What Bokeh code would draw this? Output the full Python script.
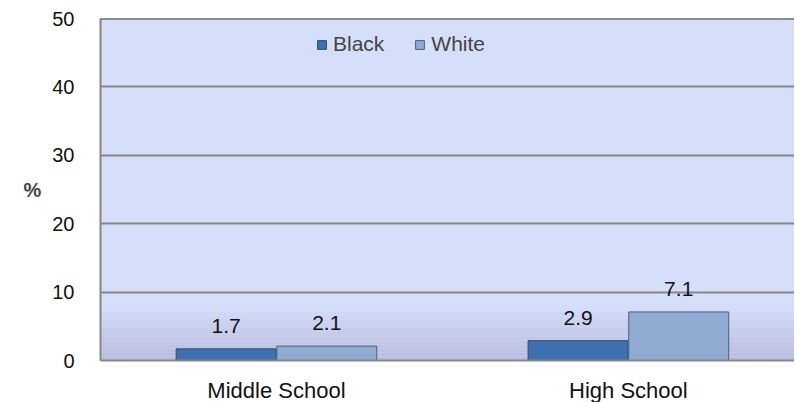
import numpy as np
from bokeh.plotting import figure
from bokeh.models import Range1d, FixedTicker, Legend, LegendItem, Span, ColumnDataSource
from bokeh.core.properties import value
from bokeh.embed import file_html
from bokeh.resources import INLINE

# ---- data ----
categories = ["Middle School", "High School"]
series_names = ["Black", "White"]
black_values = [1.7, 2.9]
white_values = [2.1, 7.1]
y_ticks = [0, 10, 20, 30, 40, 50]

FONT = "Liberation Sans"
BLACK_COLOR = "#3f70b0"
WHITE_COLOR = "#90abd1"

p = figure(width=794, height=399, output_backend="svg", toolbar_location=None,
           x_range=Range1d(0, 1.972), y_range=Range1d(0, 50),
           min_border_left=100, min_border_right=0, min_border_top=18, min_border_bottom=39)
p.frame_width = 694
p.frame_height = 342
p.background_fill_color = "#d6dffa"
p.border_fill_color = "white"
p.outline_line_color = None

# soft gradient near the bottom of the plot area
n_bands = 14
edges = np.linspace(0, 8.3, n_bands + 1)
c_top = np.array([0xd6, 0xdf, 0xfa])
c_bot = np.array([0xb9, 0xbc, 0xde])
for i in range(n_bands):
    t = (i + 0.5) / n_bands
    c = (c_bot * (1 - t) + c_top * t).astype(int)
    p.quad(left=0, right=1.972, bottom=edges[i], top=edges[i + 1],
           fill_color="#%02x%02x%02x" % tuple(c), line_color=None)

# grid
p.xgrid.grid_line_color = None
p.ygrid.ticker = FixedTicker(ticks=y_ticks[1:-1])
p.ygrid.grid_line_color = "#878787"
p.ygrid.grid_line_width = 2
p.ygrid.level = "underlay"
p.add_layout(Span(location=50, dimension="width", line_color="#333333", line_width=2))

# bars
idx = np.arange(len(categories))
bar_w = 0.284
off = 0.143
xb = idx + 0.5 - off
xw = idx + 0.5 + off
src_b = ColumnDataSource(dict(x=xb, top=black_values, lab=[f"{v:.1f}" for v in black_values]))
src_w = ColumnDataSource(dict(x=xw, top=white_values, lab=[f"{v:.1f}" for v in white_values]))

rb = p.vbar(x="x", top="top", width=bar_w, bottom=0, source=src_b,
            fill_color=BLACK_COLOR, line_color="#2c4a78", line_width=1)
rw = p.vbar(x="x", top="top", width=bar_w, bottom=0, source=src_w,
            fill_color=WHITE_COLOR, line_color="#4d5e78", line_width=1)

for s in (src_b, src_w):
    p.text(x="x", y="top", text="lab", source=s, text_align="center",
           text_baseline="bottom", y_offset=-16, text_font_size="21px",
           text_font=value(FONT), text_color="#111111")

# axes
p.xaxis.ticker = FixedTicker(ticks=list(idx + 0.5))
p.xaxis.major_label_overrides = {float(i + 0.5): c for i, c in enumerate(categories)}
p.yaxis.ticker = FixedTicker(ticks=y_ticks)
for ax in (p.xaxis[0], p.yaxis[0]):
    ax.axis_line_color = "#878787"
    ax.axis_line_width = 2
    ax.major_tick_line_color = None
    ax.minor_tick_line_color = None
    ax.major_label_text_font = FONT
    ax.major_label_text_color = "#111111"
p.xaxis.major_label_text_font_size = "22px"
p.yaxis.major_label_text_font_size = "20px"
p.xaxis.major_label_standoff = 11
p.yaxis.major_label_standoff = 20
p.yaxis.axis_label = "%"
p.yaxis.axis_label_orientation = "horizontal"
p.yaxis.axis_label_text_font = FONT
p.yaxis.axis_label_text_font_style = "bold"
p.yaxis.axis_label_text_font_size = "20px"
p.yaxis.axis_label_standoff = 8

legend = Legend(items=[LegendItem(label=series_names[0], renderers=[rb]),
                       LegendItem(label=series_names[1], renderers=[rw])],
                orientation="horizontal", location=(216, 304),
                background_fill_alpha=0, border_line_color=None,
                label_text_font=FONT, label_text_font_size="21px",
                glyph_width=11, glyph_height=11, label_standoff=6, spacing=30,
                padding=0, margin=0)
p.add_layout(legend)

open("out.html", "w").write(file_html(p, INLINE))
